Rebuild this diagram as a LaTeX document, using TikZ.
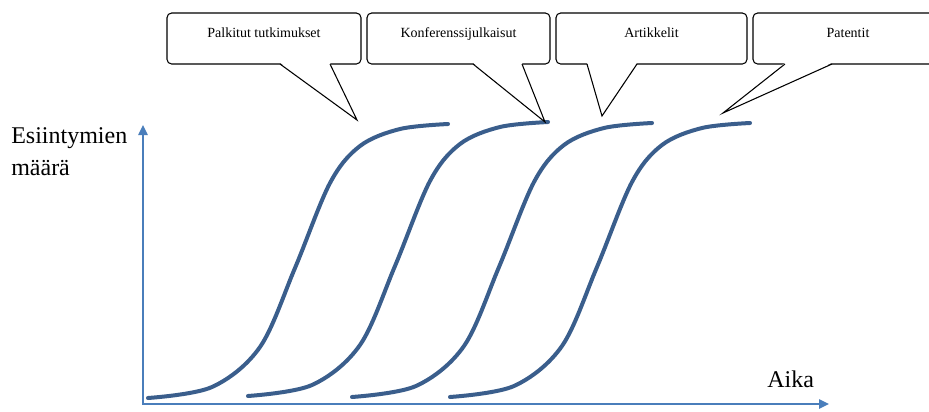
\documentclass[tikz,border=0pt]{standalone}
\usepackage{fontspec}
\setmainfont{Liberation Serif}
\usetikzlibrary{calc,positioning,arrows.meta}
\definecolor{axisblue}{HTML}{4A7EBB}
\definecolor{curveblue}{HTML}{3A5E8C}

% tail of a speech bubble: node, left and right base offset, tip
\newcommand{\callouttail}[4]{%
  \fill[white] ($(#1.south west)+(#2,-1.2)$) -- (#4) -- ($(#1.south west)+(#3,-1.2)$) -- cycle;
  \draw[line width=0.8pt] ($(#1.south west)+(#2,0)$) -- (#4) -- ($(#1.south west)+(#3,0)$);}

\begin{document}
\begin{tikzpicture}[
      x=0.75pt, y=-0.75pt,
      node distance=4.5pt,
      calloutbox/.style={
        draw=black, line width=0.8pt,
        rounded corners=3.5pt,
        inner sep=0pt, outer sep=0pt,
        text height=18pt, text depth=20.25pt,
        font=\fontsize{10.5}{12}\selectfont
      },
      axislabel/.style={font=\fontsize{18}{24}\selectfont, inner sep=0pt, align=left},
      axisline/.style={draw=axisblue, line width=1.1pt, {Triangle[length=7.5pt,width=7pt]}-{Triangle[length=7.5pt,width=7pt]}},
      scurve/.style={draw=curveblue, line width=3pt, line cap=round}
    ]
      \useasboundingbox (0,0) rectangle (929,411);

      % axes
      \coordinate (origin) at (143,404);
      \coordinate (ytip) at (143,125);
      \coordinate (xtip) at (829,404);
      \draw[axisline] (ytip) -- (origin) -- (xtip);
      \node[axislabel, anchor=base west] (ylab) at (11,175) {Esiintymien\\määrä};
      \node[axislabel, anchor=base west] (xlab) at (767,387) {Aika};

      % S-curves
      \foreach \dx/\dy in {0/0, 100/-2, 204/-1, 302/-1}
        \draw[scurve, shift={(\dx,\dy)}] plot[smooth, tension=0.55] coordinates {
          (148,398) (212,387) (260,347) (295,268) (330,183) (360,146) (400,129) (448,124)};

      % speech bubbles
      \node[calloutbox, minimum width=145.5pt, anchor=north west] (palkitut) at (167,13) {Palkitut tutkimukset};
      \node[calloutbox, minimum width=137.25pt, right=of palkitut] (konferenssi) {Konferenssijulkaisut};
      \node[calloutbox, minimum width=143.25pt, right=of konferenssi] (artikkelit) {Artikkelit};
      \node[calloutbox, minimum width=142.5pt, right=of artikkelit] (patentit) {Patentit};

      \coordinate (tip1) at (357,120);
      \coordinate (tip2) at (545,122);
      \coordinate (tip3) at (602,116);
      \coordinate (tip4) at (723,113);
      \callouttail{palkitut}{113}{163}{tip1}
      \callouttail{konferenssi}{106}{155}{tip2}
      \callouttail{artikkelit}{31}{81}{tip3}
      \callouttail{patentit}{32}{79}{tip4}
    \end{tikzpicture}
\end{document}
